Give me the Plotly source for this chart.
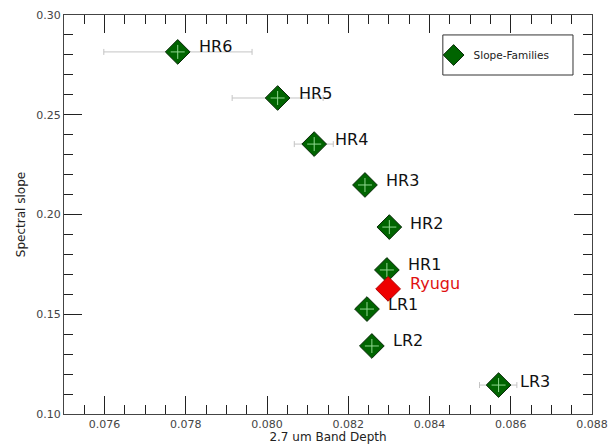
import plotly.graph_objects as go

names = ["HR6", "HR5", "HR4", "HR3", "HR2", "HR1", "LR1", "LR2", "LR3"]
band_depth = [0.07780, 0.08026, 0.08116, 0.08241, 0.08301, 0.08295, 0.08246, 0.08258, 0.08570]
slope = [0.2815, 0.2584, 0.2353, 0.2148, 0.1937, 0.1722, 0.1526, 0.1341, 0.1145]
err_plus = [0.00183, 0.00112, 0.00047, 0.00008, 0.00008, 0.00008, 0.00008, 0.00008, 0.00045]
err_minus = [0.00182, 0.00112, 0.00049, 0.00008, 0.00008, 0.00008, 0.00008, 0.00008, 0.00047]

ryugu_x = [0.08298]
ryugu_y = [0.1627]

x_range = [0.075, 0.088]
y_range = [0.10, 0.30]

fig = go.Figure()

fig.add_trace(go.Scatter(
    x=band_depth, y=slope, mode="markers", name="Slope-Families",
    marker=dict(symbol="diamond", size=19, color="#006400",
                line=dict(color="#0a2a0a", width=1)),
    error_x=dict(type="data", array=err_plus, arrayminus=err_minus,
                 color="#c4c4c4", thickness=1, width=3),
))
fig.add_trace(go.Scatter(
    x=band_depth, y=slope, mode="markers", showlegend=False, hoverinfo="skip",
    marker=dict(symbol="cross-thin", size=10, color="rgba(0,0,0,0)",
                line=dict(color="#8fd88f", width=1)),
))
fig.add_trace(go.Scatter(
    x=ryugu_x, y=ryugu_y, mode="markers", showlegend=False,
    marker=dict(symbol="diamond", size=19, color="#ee0000",
                line=dict(color="#b00000", width=1)),
))
# invisible carrier so the minor-tick overlay axes get drawn
fig.add_trace(go.Scatter(
    x=ryugu_x, y=ryugu_y, xaxis="x2", yaxis="y2", mode="markers",
    marker=dict(opacity=0, size=1), showlegend=False, hoverinfo="skip",
))

yshift = [5, 4, 5, 4, 4, 5, 5, 5, 4]
for n, x, y, ys in zip(names, band_depth, slope, yshift):
    fig.add_annotation(x=x, y=y, text=n, showarrow=False, xanchor="left",
                       xshift=19, yshift=ys,
                       font=dict(family="DejaVu Sans", size=16, color="#111111"))
fig.add_annotation(x=ryugu_x[0], y=ryugu_y[0], text="Ryugu", showarrow=False,
                   xanchor="left", xshift=20, yshift=5,
                   font=dict(family="DejaVu Sans", size=16, color="#e01010"))

tickfont = dict(family="DejaVu Sans", size=11, color="#444444")
common = dict(showgrid=False, zeroline=False, automargin=False,
              ticks="inside", tickcolor="#222222", tickwidth=1.3,
              mirror="allticks")

fig.update_layout(
    xaxis=dict(
        range=x_range, tickmode="linear", tick0=0.076, dtick=0.002,
        tickformat=".3f", ticklen=18, showline=True, linecolor="#444444",
        linewidth=1, tickfont=tickfont,
        title=dict(text="2.7 um Band Depth", standoff=5,
                   font=dict(family="DejaVu Sans", size=12, color="#222222")),
        **common,
    ),
    yaxis=dict(
        range=y_range, tickmode="linear", tick0=0.10, dtick=0.05,
        tickformat=".2f", ticklen=18, showline=True, linecolor="#444444",
        linewidth=1, tickfont=tickfont,
        title=dict(text="Spectral slope", standoff=8,
                   font=dict(family="DejaVu Sans", size=12, color="#222222")),
        **common,
    ),
    xaxis2=dict(
        range=x_range, overlaying="x", anchor="y2", side="bottom",
        tickmode="linear", tick0=0.075, dtick=0.0005, ticklen=9,
        showticklabels=False, showline=False, **common,
    ),
    yaxis2=dict(
        range=y_range, overlaying="y", anchor="x2", side="left",
        tickmode="linear", tick0=0.10, dtick=0.01, ticklen=9,
        showticklabels=False, showline=False, **common,
    ),
)

fig.add_shape(type="rect", xref="paper", yref="paper",
              x0=0.7175, x1=0.964, y0=0.8496, y1=0.95,
              line=dict(color="#333333", width=1), fillcolor="white", layer="above")

fig.update_layout(
    width=611, height=444,
    margin=dict(l=64, r=19, t=15, b=30),
    paper_bgcolor="white", plot_bgcolor="white",
    showlegend=True,
    legend=dict(x=0.70, y=0.8997, xanchor="left", yanchor="middle",
                borderwidth=0, bgcolor="rgba(0,0,0,0)",
                font=dict(family="DejaVu Sans", size=10.5, color="#222222"),
                itemwidth=30),
)

fig.write_html("out.html")
